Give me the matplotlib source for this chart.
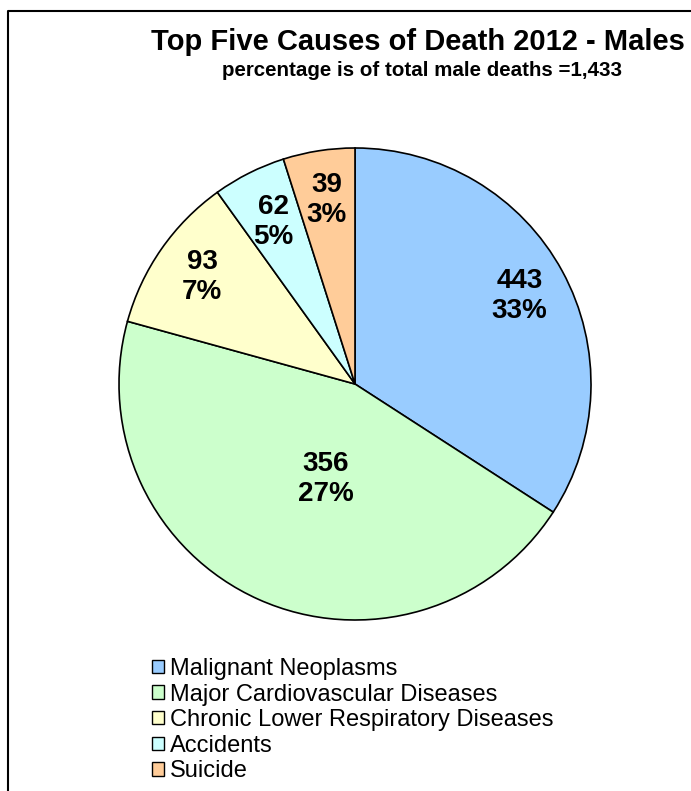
import matplotlib
matplotlib.use("Agg")
import matplotlib.pyplot as plt
from matplotlib.patches import Patch
from matplotlib.lines import Line2D
import numpy as np

plt.rcParams['font.family'] = ['Liberation Sans', 'DejaVu Sans']

categories = ["Malignant Neoplasms", "Major Cardiovascular Diseases",
              "Chronic Lower Respiratory Diseases", "Accidents", "Suicide"]
counts = [443, 356, 93, 62, 39]
pct_labels = ["33%", "27%", "7%", "5%", "3%"]
# slice shares as drawn in the picture (percent of the circle)
slice_shares = [34.1, 45.1, 10.8, 5.0, 4.9]
colors = ["#99CCFF", "#CCFFCC", "#FFFFCC", "#CCFFFF", "#FFCC99"]

fig = plt.figure(figsize=(6.91, 7.91), dpi=100)
W, H = 691, 791
cx, cy, r = 355, 384, 236
ax = fig.add_axes([(cx - r) / W, (H - cy - r) / H, 2 * r / W, 2 * r / H])

wedges, _ = ax.pie(slice_shares, colors=colors, startangle=90, counterclock=False,
                   wedgeprops=dict(edgecolor="black", linewidth=1.2))
ax.set_xlim(-1, 1)
ax.set_ylim(-1, 1)
ax.set_aspect("equal")
ax.axis("off")

label_r = [0.79, 0.42, 0.79, 0.77, 0.79]
label_shift = [-0.5, 7, 0, 0, 0]
for w, n, p, rr, sh in zip(wedges, counts, pct_labels, label_r, label_shift):
    mid = np.deg2rad((w.theta1 + w.theta2) / 2 + sh)
    ax.text(rr * np.cos(mid), rr * np.sin(mid), f"{n}\n{p}", ha="center", va="center",
            fontsize=20, fontweight="bold", linespacing=1.2)

fig.text(417.5 / W, 1 - 42 / H, "Top Five Causes of Death 2012 - Males",
         ha="center", va="center", fontsize=21, fontweight="bold")
fig.text(422 / W, 1 - 71 / H, "percentage is of total male deaths =1,433",
         ha="center", va="center", fontsize=14.8, fontweight="bold")

handles = [Patch(facecolor=c, edgecolor="black", linewidth=1) for c in colors]
fig.legend(handles, categories, loc="upper left", bbox_to_anchor=(152 / W, 1 - 658 / H),
           frameon=False, fontsize=17, handlelength=0.5, handleheight=0.5,
           handletextpad=0.25, labelspacing=0.15, borderpad=0, borderaxespad=0)

# chart frame (left and top edges visible)
fig.add_artist(Line2D([8 / W, 8 / W, 1.01], [-0.01, 1 - 11 / H, 1 - 11 / H],
                      transform=fig.transFigure, color="black", linewidth=1.5))

fig.savefig("out.png", dpi=100)
